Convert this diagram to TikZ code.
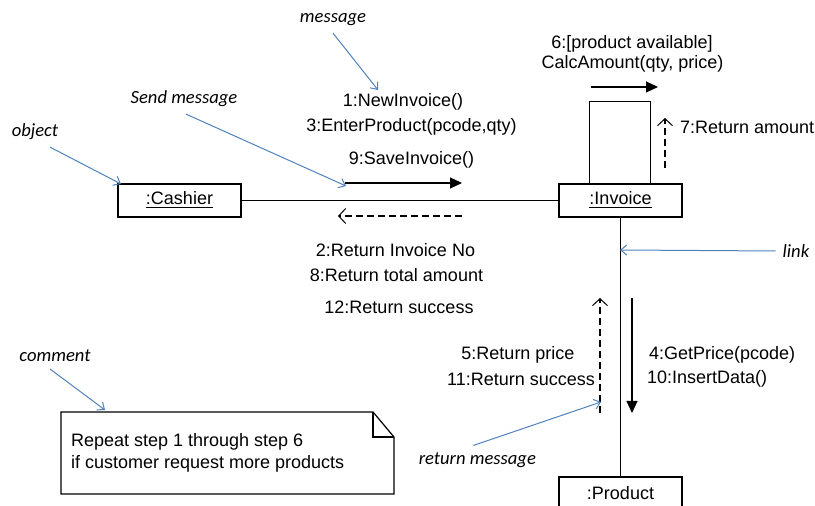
\documentclass[tikz,border=0pt]{standalone}
\usepackage{fontspec}
\setmainfont{Liberation Sans}
\newfontfamily\hintfont{Carlito}
\usetikzlibrary{positioning,arrows.meta,calc}
\definecolor{hintblue}{RGB}{79,129,189}

\begin{document}
\begin{tikzpicture}[x=0.5pt,y=-0.5pt,
                    font=\fontsize{9}{11}\selectfont,
                    obj node/.style={draw,line width=0.8pt,minimum width=61.5pt,minimum height=16.5pt,inner sep=0pt},
                    msg/.style={-{Triangle[length=6pt,width=5.5pt]},line width=0.6pt},
                    ret msg/.style={-{Straight Barb[length=3.5pt,width=7.5pt,line width=0.5pt]},line width=0.9pt,dash pattern=on 3.5pt off 2pt},
                    hint/.style={font=\hintfont\itshape\fontsize{9.3}{11}\selectfont},
                    hint arrow/.style={-{Straight Barb[length=3pt,width=5pt]},hintblue,line width=0.5pt}
                   ]
  \useasboundingbox (0,0) rectangle (815,506);
  \clip (0,0) rectangle (815,506);

  % objects
  \node[obj node] (cashier) at (179.5,200.5) {\underline{:Cashier}};
  \node[obj node] (invoice) at (620.5,200.5) {\underline{:Invoice}};
  \node[obj node] (product) at (620.5,493.5) {:Product};

  % links
  \draw[line width=0.5pt] (cashier) -- (invoice);
  \draw[line width=0.5pt] (invoice) -- (product);
  \draw[line width=0.6pt] ([xshift=15.5pt]invoice.north west) -- ++(0,-82) -- ++(61,0) -- ++(0,82);

  % message ends
  \coordinate (save s) at (345,183);   \coordinate (save e) at (462,183);
  \coordinate (back s) at (462,216);   \coordinate (back e) at (338,216);
  \coordinate (calc s) at (591,87);    \coordinate (calc e) at (658,87);
  \coordinate (amt s) at (665,168);    \coordinate (amt e) at (665,118);
  \coordinate (price s) at (600,413);  \coordinate (price e) at (600,298);
  \coordinate (get s) at (632,298);    \coordinate (get e) at (632,413);

  \draw[msg] (save s) -- (save e);
  \draw[ret msg] (back s) -- (back e);
  \draw[msg] (calc s) -- (calc e);
  \draw[ret msg] (amt s) -- (amt e);
  \draw[ret msg] (price s) -- (price e);
  \draw[msg] (get s) -- (get e);

  % message labels
  \node (m1) at (403,102) {1:NewInvoice()};
  \node (m3) at (411.5,127) {3:EnterProduct(pcode,qty)};
  \node (m9) at (411.5,160) {9:SaveInvoice()};
  \node (m6) at (632,44) {6:[product available]};
  \node (m6b) at (632.5,64) {CalcAmount(qty, price)};
  \node[anchor=west] (m7) at (673,127) {7:Return amount};
  \node (m2) at (395.5,250) {2:Return Invoice No};
  \node (m8) at (396.5,275) {8:Return total amount};
  \node (m12) at (399,307) {12:Return success};
  \node (m5) at (518,355) {5:Return price};
  \node[anchor=east] (m11) at (602,379) {11:Return success};
  \node[anchor=west] (m4) at (642,355) {4:GetPrice(pcode)};
  \node[anchor=west] (m10) at (640,379) {10:InsertData()};

  % comment note
  \draw[line width=0.6pt] (61,412) -- (373,412) -- (394,437) -- (394,494) -- (61,494) -- cycle;
  \draw[line width=0.6pt] (373,412) -- (373,437) -- (394,437);
  \node[anchor=west,align=left] (note) at (64,453) {Repeat step 1 through step 6\\if customer request more products};

  % hints
  \node[hint] (hmsg) at (333,20) {message};
  \node[hint] (hsend) at (184,99) {Send message};
  \node[hint] (hobj) at (35,132) {object};
  \node[hint] (hlink) at (796,251) {link};
  \node[hint] (hcom) at (55,356) {comment};
  \node[hint,anchor=east] (hret) at (543,460) {return message};

  \coordinate (to msg) at (378,90);
  \coordinate (to send) at (346,186);
  \coordinate (to obj) at (121,184);
  \coordinate (to link) at (620,250);
  \coordinate (to com) at (105,410);
  \coordinate (to ret) at (601,402);

  \draw[hint arrow] (hmsg.south) -- (to msg);
  \draw[hint arrow] ([xshift=1pt]hsend.south) -- (to send);
  \draw[hint arrow] ([xshift=7.5pt]hobj.south) -- (to obj);
  \draw[hint arrow] (hlink.west) -- (to link);
  \draw[hint arrow] ([xshift=-2.5pt]hcom.south) -- (to com);
  \draw[hint arrow] ([xshift=-2pt]hret.north) -- (to ret);
\end{tikzpicture}
\end{document}
